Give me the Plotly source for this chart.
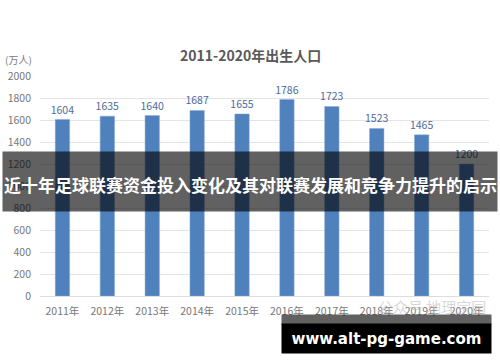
import plotly.graph_objects as go

years = ["2011年","2012年","2013年","2014年","2015年","2016年","2017年","2018年","2019年","2020年"]
births = [1604,1635,1640,1687,1655,1786,1723,1523,1465,1200]
y_ticks = [0,200,400,600,800,1000,1200,1400,1600,1800,2000]
CJK = "Noto Sans CJK SC"
W, H = 500, 362
L, T, PW, PH = 39.5, 76, 450, 220
def px(x): return (x - L) / PW
def py(y): return (T + PH - y) / PH
def note(text, x, y, **kw):
    return dict(text=text, x=px(x), y=py(y), xref="paper", yref="paper", xanchor="center",
                yanchor="middle", showarrow=False, **kw)

fig = go.Figure(go.Bar(
    x=years, y=births, width=0.32,
    marker=dict(color="#4f81bd", line=dict(color="#86a9d6", width=0.5)),
    text=births, textposition="outside", cliponaxis=False, constraintext="none",
    textfont=dict(family=CJK, size=10.5, color="#4d6c9c"),
))
fig.update_layout(
    width=W, height=H, autosize=False,
    margin=dict(l=L, r=W-L-PW, t=T, b=H-T-PH, pad=0),
    paper_bgcolor="white", plot_bgcolor="white",
    showlegend=False,
    font=dict(family=CJK, color="#7a7a7a"),
    xaxis=dict(type="category", automargin=False, tickfont=dict(size=10.5, color="#777777"), ticklabelstandoff=5,
               showline=True, linecolor="#dddddd", linewidth=1, ticks="", showgrid=False),
    yaxis=dict(range=[0,2000], automargin=False, tickvals=y_ticks, tickfont=dict(size=10.5, color="#777777"),
               ticklabelstandoff=8,
               showgrid=True, gridcolor="#e4e4e8", gridwidth=1, zeroline=False, ticks="", ticklen=0),
    annotations=[
        note("<b>2011-2020年出生人口</b>", 250, 55, font=dict(family=CJK, size=14, color="#595959")),
        note("(万人)", 18, 60, font=dict(family=CJK, size=10, color="#7a7a7a")),
        note("公众号 地理宗园", 432, 306, font=dict(family=CJK, size=15, color="rgba(190,190,190,0.6)")),
        note(" ", 250, 181.5, width=494, height=59, borderpad=0, bgcolor="rgba(0,0,0,0.62)", font=dict(size=1)),
        note("<b>近十年足球联赛资金投入变化及其对联赛发展和竞争力提升的启示</b>", 250, 184,
             font=dict(family=CJK, size=17, color="white")),
        note(" ", 386.5, 319.5, width=209, height=9, borderpad=0, bgcolor="rgba(0,0,0,0.62)", font=dict(size=1)),
        note("<b>www.alt-pg-game.com</b>", 386.5, 338.5, width=209, height=29, borderpad=0, bgcolor="black",
             font=dict(family="DejaVu Sans", size=15, color="white")),
    ],
)
fig.write_html("out.html", config=dict(displayModeBar=False),
               post_script="document.body.style.margin='0';document.body.style.overflow='hidden';")
